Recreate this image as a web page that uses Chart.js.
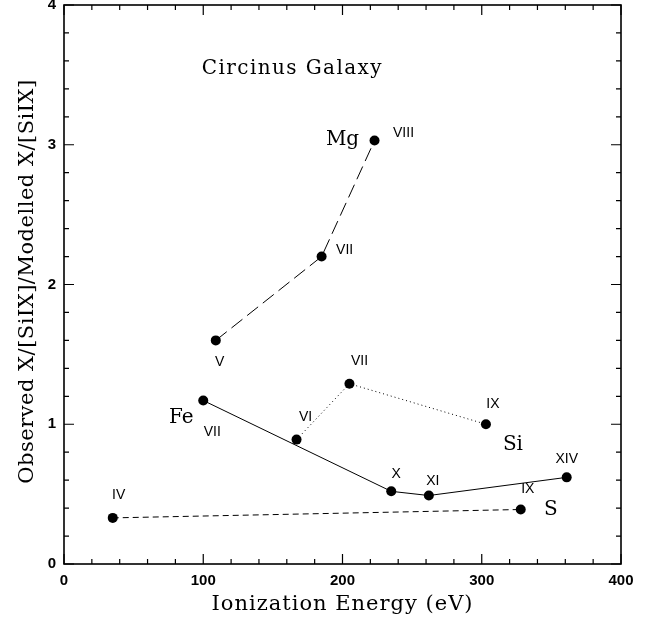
<!DOCTYPE html>
<html>
<head>
<meta charset="utf-8">
<script src="https://cdn.jsdelivr.net/npm/chart.js@4/dist/chart.umd.min.js"></script>
<style>
  html, body { margin: 0; padding: 0; background: #fff; }
</style>
</head>
<body>
<canvas id="chart" width="650" height="624"></canvas>
<script>
const mgEnergy = [109, 185, 223];
const mgRatio = [1.60, 2.20, 3.03];
const mgIons = ['V', 'VII', 'VIII'];

const feEnergy = [100, 235, 262, 361];
const feRatio = [1.17, 0.52, 0.49, 0.62];
const feIons = ['VII', 'X', 'XI', 'XIV'];

const siEnergy = [167, 205, 303];
const siRatio = [0.89, 1.29, 1.00];
const siIons = ['VI', 'VII', 'IX'];

const sEnergy = [35, 328];
const sRatio = [0.33, 0.39];
const sIons = ['IV', 'IX'];

const xTicks = [0, 100, 200, 300, 400];
const yTicks = [0, 1, 2, 3, 4];

const xTitle = 'Ionization Energy (eV)';
const yTitle = 'Observed X/[SiIX]/Modelled X/[SiIX]';
const chartTitle = 'Circinus Galaxy';

// décalages des étiquettes (px) par rapport aux points
const mgOffsets = [[4, 22], [23, -6], [29, -7]];
const feOffsets = [[9, 32], [5, -17], [4, -14], [0, -18]];
const siOffsets = [[9, -22], [10, -23], [7, -20]];
const sOffsets = [[6, -23], [7, -20]];

// nom de l'élément : [texte, dataset, point, dx, dy]
const elementLabels = [
  ['Mg', 0, 2, -32, -1],
  ['Fe', 1, 0, -22, 17],
  ['Si', 2, 2, 27, 21],
  ['S', 3, 1, 30, 0]
];

const serif = '"DejaVu Serif", "Liberation Serif", serif';
const sans = '"Liberation Sans", Arial, sans-serif';

function points(xs, ys) {
  return xs.map((x, i) => ({ x: x, y: ys[i] }));
}

function series(xs, ys, dash) {
  return {
    data: points(xs, ys),
    showLine: true,
    borderColor: '#000',
    borderWidth: 1,
    borderDash: dash,
    pointRadius: 5,
    pointBackgroundColor: '#000',
    pointBorderWidth: 0
  };
}

const ionSets = [
  [mgIons, mgOffsets],
  [feIons, feOffsets],
  [siIons, siOffsets],
  [sIons, sOffsets]
];

// cadre avec graduations intérieures sur les quatre côtés + textes
const framePlugin = {
  id: 'frame',
  afterDraw(chart) {
    const { ctx, chartArea: a, scales } = chart;
    const xs = scales.x, ys = scales.y;
    ctx.save();
    ctx.strokeStyle = '#000';
    ctx.lineWidth = 1.6;
    ctx.strokeRect(a.left, a.top, a.right - a.left, a.bottom - a.top);
    ctx.lineWidth = 1.2;
    ctx.beginPath();
    for (let v = 0; v <= 400; v += 20) {
      const px = xs.getPixelForValue(v);
      const len = xTicks.includes(v) ? 10 : 5;
      ctx.moveTo(px, a.bottom); ctx.lineTo(px, a.bottom - len);
      ctx.moveTo(px, a.top); ctx.lineTo(px, a.top + len);
    }
    for (let k = 0; k <= 20; k++) {
      const py = ys.getPixelForValue(k / 5);
      const len = k % 5 === 0 ? 10 : 5;
      ctx.moveTo(a.left, py); ctx.lineTo(a.left + len, py);
      ctx.moveTo(a.right, py); ctx.lineTo(a.right - len, py);
    }
    ctx.stroke();

    // titres des axes
    ctx.fillStyle = '#000';
    ctx.textAlign = 'center';
    ctx.textBaseline = 'middle';
    ctx.font = '21px ' + serif;
    ctx.letterSpacing = '1px';
    ctx.fillText(xTitle, (a.left + a.right) / 2, a.bottom + 41);
    ctx.letterSpacing = '0.5px';
    ctx.translate(28, (a.top + a.bottom) / 2 - 3);
    ctx.rotate(-Math.PI / 2);
    ctx.fillText(yTitle, 0, 0);
    ctx.restore();
  },
  afterDatasetsDraw(chart) {
    const { ctx, scales } = chart;
    ctx.save();
    ctx.fillStyle = '#000';
    ctx.textAlign = 'center';
    ctx.textBaseline = 'middle';

    ctx.font = '14px ' + sans;
    ionSets.forEach(([ions, offs], d) => {
      const meta = chart.getDatasetMeta(d);
      ions.forEach((txt, i) => {
        const pt = meta.data[i];
        ctx.fillText(txt, pt.x + offs[i][0], pt.y + offs[i][1]);
      });
    });

    ctx.font = '20px ' + serif;
    elementLabels.forEach(([txt, d, i, dx, dy]) => {
      const pt = chart.getDatasetMeta(d).data[i];
      ctx.fillText(txt, pt.x + dx, pt.y + dy);
    });

    ctx.font = '20px ' + serif;
    ctx.letterSpacing = '1.4px';
    ctx.fillText(chartTitle, scales.x.getPixelForValue(164), scales.y.getPixelForValue(3.54));
    ctx.restore();
  }
};

new Chart(document.getElementById('chart'), {
  type: 'scatter',
  data: {
    datasets: [
      series(mgEnergy, mgRatio, [14, 6]),
      series(feEnergy, feRatio, []),
      series(siEnergy, siRatio, [1, 3]),
      series(sEnergy, sRatio, [6, 4])
    ]
  },
  options: {
    responsive: false,
    animation: false,
    layout: { padding: { top: 5, right: 29, left: 0, bottom: 0 } },
    plugins: { legend: { display: false }, tooltip: { enabled: false } },
    scales: {
      x: {
        type: 'linear',
        min: 0,
        max: 400,
        afterBuildTicks: s => { s.ticks = xTicks.map(v => ({ value: v })); },
        afterFit: s => { s.height = 60; s.paddingLeft = 0; s.paddingRight = 0; },
        ticks: { color: '#000', font: { family: sans, size: 15, weight: 'bold' }, padding: 8, maxRotation: 0 },
        grid: { display: false, drawTicks: false },
        border: { display: false }
      },
      y: {
        type: 'linear',
        min: 0,
        max: 4,
        afterBuildTicks: s => { s.ticks = yTicks.map(v => ({ value: v })); },
        afterFit: s => { s.width = 64; s.paddingTop = 0; s.paddingBottom = 0; },
        ticks: { color: '#000', font: { family: sans, size: 15, weight: 'bold' }, padding: 8 },
        grid: { display: false, drawTicks: false },
        border: { display: false }
      }
    }
  },
  plugins: [framePlugin]
});
</script>
</body>
</html>
